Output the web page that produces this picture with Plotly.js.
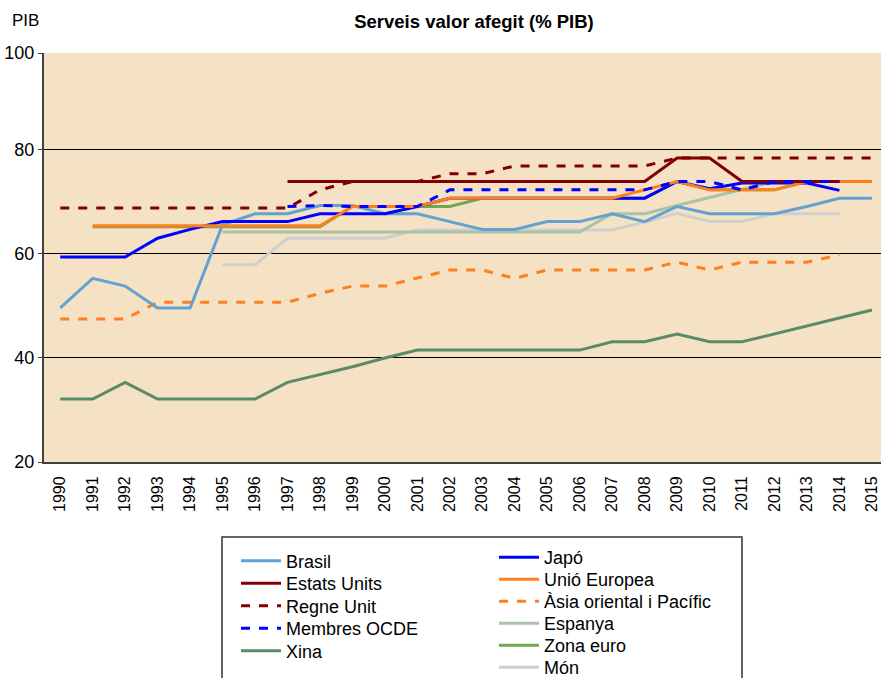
<!DOCTYPE html>
<html>
<head>
<meta charset="utf-8">
<script src="https://cdn.plot.ly/plotly-3.0.1.min.js"></script>
<style>html,body{margin:0;padding:0;background:#fff;}#chart{width:881px;height:678px;}</style>
</head>
<body>
<div id="chart"></div>
<script>
const years = [1990,1991,1992,1993,1994,1995,1996,1997,1998,1999,2000,2001,2002,2003,2004,2005,2006,2007,2008,2009,2010,2011,2012,2013,2014,2015];
const brasil       = [49.6,55.3,53.8,49.6,49.6,65.6,67.7,67.7,69.3,69.3,67.7,67.7,66.2,64.7,64.7,66.2,66.2,67.7,66.2,69.1,67.7,67.7,67.7,69.1,70.7,70.7];
const estatsUnits  = [null,null,null,null,null,null,null,73.9,73.9,73.9,73.9,73.9,73.9,73.9,73.9,73.9,73.9,73.9,73.9,78.4,78.4,73.9,73.9,73.9,73.9,null];
const regneUnit    = [68.8,68.8,68.8,68.8,68.8,68.8,68.8,68.8,72.3,73.9,73.9,73.9,75.4,75.4,76.9,76.9,76.9,76.9,76.9,78.4,78.4,78.4,78.4,78.4,78.4,78.4];
const membresOCDE  = [null,null,null,null,null,null,null,69.1,69.3,69.1,69.1,69.1,72.3,72.3,72.3,72.3,72.3,72.3,72.3,73.9,73.9,72.3,73.9,73.9,73.9,null];
const xina         = [32.1,32.1,35.3,32.1,32.1,32.1,32.1,35.3,36.8,38.3,40.0,41.5,41.5,41.5,41.5,41.5,41.5,43.1,43.1,44.6,43.1,43.1,44.6,46.2,47.7,49.2];
const japo         = [59.4,59.4,59.4,63.0,64.7,66.2,66.2,66.2,67.7,67.7,67.7,69.1,70.7,70.7,70.7,70.7,70.7,70.7,70.7,73.9,72.5,73.6,73.6,73.6,72.2,null];
const unioEuropea  = [null,65.4,65.4,65.4,65.4,65.4,65.4,65.4,65.4,69.1,69.1,69.1,70.7,70.7,70.7,70.7,70.7,70.7,72.3,73.9,72.3,72.3,72.3,73.9,73.9,73.9];
const asiaOriental = [47.5,47.5,47.5,50.7,50.7,50.7,50.7,50.7,52.4,53.8,53.8,55.4,56.9,56.9,55.3,56.9,56.9,56.9,56.9,58.4,56.9,58.4,58.4,58.4,59.8,null];
const espanya      = [null,null,null,null,null,64.2,64.2,64.2,64.2,64.2,64.2,64.2,64.2,64.2,64.2,64.2,64.2,67.7,67.7,69.3,70.8,72.3,73.9,73.9,73.9,null];
const zonaEuro     = [null,65.2,65.2,65.2,65.2,65.2,65.2,65.2,65.2,69.1,69.1,69.1,69.1,70.7,70.7,70.7,70.7,70.7,70.7,73.9,72.3,72.3,72.3,73.9,73.9,73.9];
const mon          = [null,null,null,null,null,57.9,57.9,63.0,63.0,63.0,63.0,64.6,64.6,64.6,64.6,64.6,64.6,64.6,66.1,67.8,66.2,66.2,67.7,67.7,67.7,null];

const yTickVals = [20,40,60,80,98.6];
const yTickText = ['20','40','60','80','100'];

const PL = 44, PR = 881, PT = 53, PB = 462;
const W = PR-PL, H = PB-PT;
const px = v => (v-PL)/W;
const py = v => (PB-v)/H;

// legend slots: [left x of legend box, vertical centre] in pixels
const slots = {
  'Brasil':[236,561], 'Estats Units':[236,583.5], 'Regne Unit':[236,606], 'Membres OCDE':[236,628.5], 'Xina':[236,651],
  'Japó':[494,557.5], 'Unió Europea':[494,579.5], 'Àsia oriental i Pacífic':[494,601.5], 'Espanya':[494,623.5], 'Zona euro':[494,645.5], 'Món':[494,667.5]
};

const legends = {};
let legIdx = 0;
function tr(name, y, color, dash){
  legIdx += 1;
  const key = legIdx === 1 ? 'legend' : 'legend' + legIdx;
  const s = slots[name];
  legends[key] = {x:px(s[0]), y:py(s[1]), xanchor:'left', yanchor:'middle', bgcolor:'rgba(0,0,0,0)', borderwidth:0,
    font:{size:18}, tracegroupgap:0, itemwidth:40};
  return {type:'scatter', mode:'lines', x:years, y:y, name:name,
    line:{color:color, width:3, dash:dash||'solid'}, connectgaps:false,
    legend:key, hoverinfo:'skip'};
}
const traces = [
  tr('Món', mon, '#cfcfcf', 'solid'),
  tr('Espanya', espanya, '#a9c2a8', 'solid'),
  tr('Zona euro', zonaEuro, '#72a84c', 'solid'),
  tr('Xina', xina, '#5b8a67', 'solid'),
  tr('Àsia oriental i Pacífic', asiaOriental, '#ff7f1e', 'dash'),
  tr('Brasil', brasil, '#62a1d2', 'solid'),
  tr('Japó', japo, '#0000ff', 'solid'),
  tr('Unió Europea', unioEuropea, '#ff7f1e', 'solid'),
  tr('Estats Units', estatsUnits, '#800000', 'solid'),
  tr('Regne Unit', regneUnit, '#800000', 'dash'),
  tr('Membres OCDE', membresOCDE, '#0000ff', 'dash')
];

const layout = Object.assign({
  width:881, height:678,
  margin:{l:PL, r:881-PR, t:PT, b:678-PB, pad:0, autoexpand:false},
  paper_bgcolor:'#ffffff', plot_bgcolor:'#f5e2c4',
  font:{family:'Liberation Sans, Arial, sans-serif', color:'#000', size:18},
  title:{text:'<b>Serveis valor afegit (% PIB)</b>', font:{size:18.5, color:'#000'}, x:0.538, xref:'container', y:0.968, yref:'container', xanchor:'center', yanchor:'middle'},
  xaxis:{type:'linear', range:[1989.5,2015.28], tickvals:years, ticktext:years.map(String), tickangle:-90,
    tickfont:{size:16}, showgrid:false, zeroline:false, showline:true, linecolor:'#404040', linewidth:2, ticks:'', ticklabelstandoff:6, automargin:false},
  yaxis:{range:[20,98.6], tickvals:yTickVals, ticktext:yTickText, tickfont:{size:18}, automargin:false,
    showgrid:true, gridcolor:'#000', gridwidth:1, zeroline:false, showline:true, linecolor:'#404040', linewidth:2,
    ticks:'outside', ticklen:4, tickcolor:'#404040', tickwidth:1},
  showlegend:true,
  shapes:[{type:'rect', xref:'paper', yref:'paper', x0:px(222), x1:px(742), y0:py(537), y1:py(700),
    line:{color:'#333', width:1.5}, fillcolor:'rgba(0,0,0,0)', layer:'above'}],
  annotations:[{text:'PIB', xref:'paper', yref:'paper', x:px(10), y:py(20), xanchor:'left', yanchor:'middle',
    showarrow:false, font:{size:17, color:'#000'}}]
}, legends);

Plotly.newPlot('chart', traces, layout, {displayModeBar:false, staticPlot:true});
</script>
</body>
</html>
